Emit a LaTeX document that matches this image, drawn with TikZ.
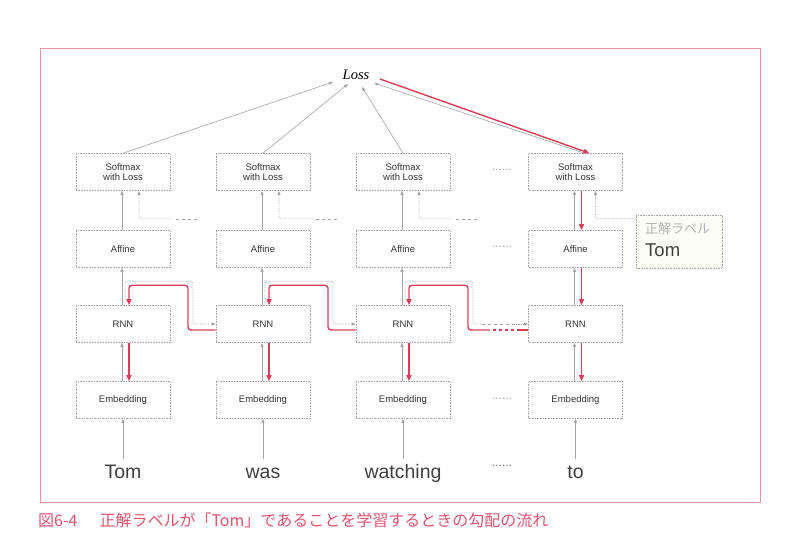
\documentclass[tikz,border=0pt]{standalone}
\usepackage{fontspec}
\setmainfont{Liberation Sans}
\newfontfamily\cjk{Noto Sans CJK JP}
\newfontfamily\serifit{Liberation Serif}
\usetikzlibrary{arrows.meta,calc}
\definecolor{redline}{HTML}{D8405A}
\definecolor{framec}{HTML}{E595A0}
\definecolor{capc}{HTML}{E25470}
\definecolor{boxc}{HTML}{A8A8A8}
\definecolor{arrc}{HTML}{A4A4A4}
\definecolor{labfill}{HTML}{FDFDF7}
\begin{document}
\begin{tikzpicture}[x=1pt,y=-1pt,
  blk/.style={draw=boxc, densely dotted, line width=0.6pt, minimum width=94pt, minimum height=37pt, inner sep=0pt, font=\fontsize{9.5}{9.5}\selectfont, text=black!80, align=center},
  garr/.style={draw=arrc, line width=0.6pt, -{Triangle[length=4pt,width=3pt]}},
  gdot/.style={draw=arrc, densely dotted, line width=0.6pt, rounded corners=2pt, -{Triangle[length=4pt,width=3pt]}},
  gdash/.style={draw=arrc, dashed, line width=0.6pt},
  rarr/.style={draw=redline, line width=1.4pt, rounded corners=3pt, -{Triangle[length=6pt,width=5pt]}},
  rline/.style={draw=redline, line width=1.4pt},
  word/.style={font=\fontsize{19.5}{20}\selectfont, text=black!75, inner sep=0pt, text height=14pt, text depth=4pt},
  dotsn/.style={font=\fontsize{12}{12}\selectfont, text=black!35, inner sep=0pt}]
\useasboundingbox (0,0) rectangle (788,549);
\fill[white] (0,0) rectangle (788,549);
\draw[framec, line width=1pt] (40,48) rectangle (760,502);

% nodes
\node[inner sep=1pt, font=\serifit\itshape\fontsize{14.5}{15}\selectfont] (L) at (356,75) {Loss};

\node[blk] (s1) at (123,172) {Softmax\\with Loss};
\node[blk] (s2) at (263,172) {Softmax\\with Loss};
\node[blk] (s3) at (403,172) {Softmax\\with Loss};
\node[blk] (s4) at (575.5,172) {Softmax\\with Loss};

\node[blk] (a1) at (123,249) {Affine};
\node[blk] (a2) at (263,249) {Affine};
\node[blk] (a3) at (403,249) {Affine};
\node[blk] (a4) at (575.5,249) {Affine};

\node[blk] (r1) at (123,324) {RNN};
\node[blk] (r2) at (263,324) {RNN};
\node[blk] (r3) at (403,324) {RNN};
\node[blk] (r4) at (575.5,324) {RNN};

\node[blk] (e1) at (123,400) {Embedding};
\node[blk] (e2) at (263,400) {Embedding};
\node[blk] (e3) at (403,400) {Embedding};
\node[blk] (e4) at (575.5,400) {Embedding};

\node[word] (w1) at (123,473) {Tom};
\node[word] (w2) at (263,473) {was};
\node[word] (w3) at (403,473) {watching};
\node[word] (w4) at (575.5,473) {to};

\node[dotsn] (d1) at (502,170) {......};
\node[dotsn] (d2) at (502,247) {......};
\node[dotsn] (d3) at (502,399) {......};
\node[dotsn, text=black!60] (d4) at (502,466) {......};

\node[draw=boxc, densely dotted, line width=0.6pt, fill=labfill, minimum width=86pt, minimum height=53pt, inner sep=0pt] (lab) at (679,241.5) {};
\node[anchor=west, inner sep=0pt, text=black!30, font=\cjk\fontsize{13}{13}\selectfont] (labt1) at (645,229) {正解ラベル};
\node[anchor=west, inner sep=0pt, text=black!75, font=\fontsize{18.5}{19}\selectfont] (labt2) at (645,250) {Tom};

\node[anchor=west, inner sep=0pt, text=capc, font=\cjk\fontsize{16}{16}\selectfont] (cap) at (38,520) {図6-4\hspace{22pt}正解ラベルが「Tom」であることを学習するときの勾配の流れ};

% to Loss
\draw[garr] (s1.north) -- ($(L.center)+(-23,7)$);
\draw[garr] (s2.north) -- ($(L.center)+(-8,9)$);
\draw[garr] (s3.north) -- ($(L.center)+(6,12)$);
\draw[garr] ($(s4.north)+(9,0)$) -- ($(L.center)+(18,8)$);
\draw[rarr] ($(L.center)+(24,4)$) -- ($(s4.north)+(14,0)$);

% vertical connections
\foreach \i in {1,2,3,4}{
  \draw[garr] ($(w\i.north)+(0,-5)$) -- (e\i.south);
  \draw[garr] ($(e\i.north)+(-1,0)$) -- ($(r\i.south)+(-1,0)$);
  \draw[rarr] ($(r\i.south)+(6,0)$) -- ($(e\i.north)+(6,0)$);
  \draw[garr] ($(r\i.north)+(-1,0)$) -- ($(a\i.south)+(-1,0)$);
  \draw[garr] ($(a\i.north)+(-1,0)$) -- ($(s\i.south)+(-1,0)$);
}
\draw[rarr] ($(s4.south)+(6,0)$) -- ($(a4.north)+(6,0)$);
\draw[rarr] ($(a4.south)+(6,0)$) -- ($(r4.north)+(6,0)$);

% label lines
\foreach \i in {1,2,3}{
  \draw[gdash] ($(s\i.south)+(74,28)$) -- ($(s\i.south)+(50,28)$);
  \draw[gdot] ($(s\i.south)+(50,28)$) -| ($(s\i.south)+(16,0)$);
}
\draw[gdot] ($(lab.north west)+(0,4)$) -| ($(s4.south)+(20,0)$);

% RNN hidden state forward (gray) and backward (red)
\draw[gdot] ($(r1.north)+(2,0)$) |- ($(r1.north)+(70,-24)$) |- (r2.west);
\draw[rarr] ($(r2.west)+(0,6)$) -| ($(r1.north)+(65,-20)$) -| ($(r1.north)+(6,0)$);
\draw[gdot] ($(r2.north)+(2,0)$) |- ($(r2.north)+(70,-24)$) |- (r3.west);
\draw[rarr] ($(r3.west)+(0,6)$) -| ($(r2.north)+(65,-20)$) -| ($(r2.north)+(6,0)$);

\draw[gdot, -] ($(r3.north)+(2,0)$) |- ($(r3.north)+(70,-24)$) |- ($(r4.west)+(-46,0)$);
\draw[gdash] ($(r4.west)+(-46,0)$) -- ($(r4.west)+(-12,0)$);
\draw[gdot] ($(r4.west)+(-12,0)$) -- (r4.west);
\draw[rline] ($(r4.west)+(0,6)$) -- ($(r4.west)+(-8,6)$);
\draw[rline, dashed] ($(r4.west)+(-8,6)$) -- ($(r4.west)+(-38,6)$);
\draw[rarr] ($(r4.west)+(-38,6)$) -| ($(r3.north)+(65,-20)$) -| ($(r3.north)+(6,0)$);
\end{tikzpicture}
\end{document}
